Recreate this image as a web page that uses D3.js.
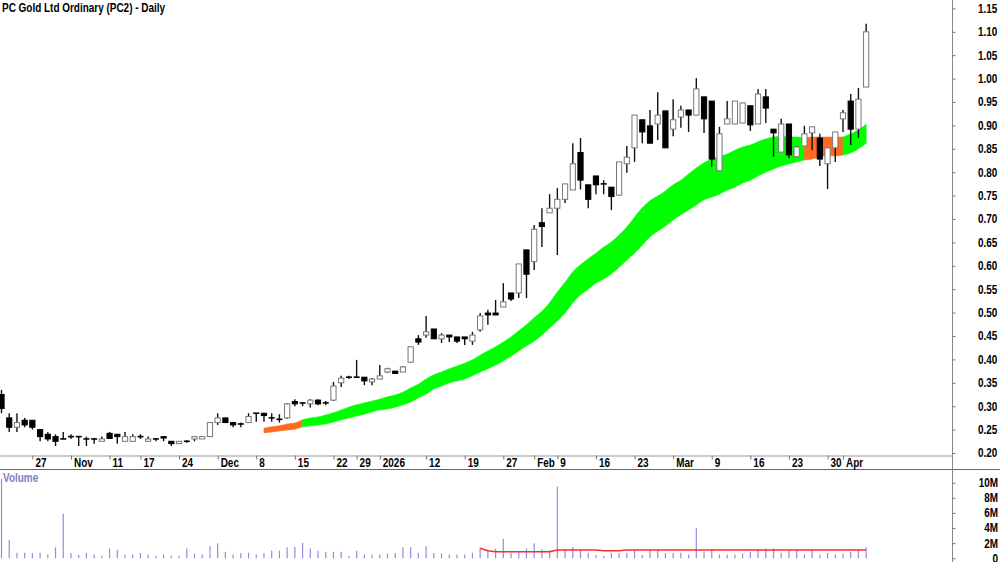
<!DOCTYPE html>
<html lang="en">
<head>
  <meta charset="utf-8">
  <title>PC Gold Ltd Ordinary (PC2) - Daily</title>
  <script src="https://cdn.jsdelivr.net/npm/d3@7"></script>
  <style>
    body { margin: 0; background: #fff; }
    svg text { font-family: "Liberation Sans", Arial, sans-serif; }
  </style>
</head>
<body>
  <svg class="chart" width="1000" height="562"></svg>
  <script>
    // daily bars, oldest first ($)
    var opens  = [.325,.275,.255,.270,.270,.250,.240,.235,.230,.235,.235,.230,.230,.225,.242,.240,.225,.225,.235,.225,
                  .230,.235,.225,.220,.225,.230,.230,.235,.265,.275,.265,.262,.265,.285,.285,.275,.272,.275,.310,.307,
                  .305,.313,.307,.313,.350,.362,.362,.362,.352,.358,.373,.375,.373,.394,.444,.452,.465,.444,.452,.448,
                  .448,.439,.463,.499,.499,.512,.542,.542,.634,.609,.692,.713,.723,.742,.762,.842,.773,.792,.775,.768,
                  .751,.818,.852,.912,.899,.903,.931,.892,.918,.933,.922,.961,.952,.803,.903,.903,.905,.942,.903,.961,
                  .892,.843,.903,.833,.856,.884,.873,.818,.852,.914,.952,.892,.982];
    var highs  = [.335,.285,.285,.275,.270,.250,.245,.240,.245,.240,.235,.235,.232,.235,.245,.240,.245,.240,.240,.235,
                  .232,.235,.225,.225,.227,.235,.235,.265,.285,.275,.265,.265,.285,.285,.285,.285,.283,.307,.315,.307,
                  .315,.315,.311,.352,.365,.365,.399,.362,.360,.388,.382,.375,.386,.427,.452,.493,.465,.456,.452,.448,
                  .448,.459,.499,.506,.527,.563,.542,.604,.634,.687,.723,.753,.766,.775,.862,.873,.773,.792,.783,.768,
                  .822,.856,.922,.912,.933,.971,.931,.956,.942,.933,1.001,.961,.952,.897,.952,.952,.948,.942,.978,.978,
                  .892,.914,.903,.856,.899,.897,.882,.852,.886,.933,.967,.980,1.117];
    var lows   = [.285,.245,.245,.255,.250,.225,.225,.215,.230,.230,.215,.215,.220,.225,.230,.220,.225,.225,.230,.225,
                  .225,.225,.215,.220,.222,.225,.230,.235,.260,.265,.255,.255,.265,.267,.267,.267,.265,.273,.300,.300,
                  .297,.302,.302,.311,.341,.358,.362,.345,.345,.358,.371,.370,.373,.394,.431,.446,.444,.435,.437,.435,
                  .431,.431,.459,.474,.495,.512,.525,.531,.531,.591,.640,.713,.623,.734,.762,.763,.723,.753,.753,.719,
                  .751,.799,.822,.862,.862,.869,.852,.877,.895,.886,.922,.884,.811,.803,.903,.903,.905,.888,.903,.905,
                  .833,.843,.830,.833,.856,.847,.813,.764,.822,.886,.858,.873,.982];
    var closes = [.295,.255,.265,.260,.255,.235,.230,.225,.230,.235,.235,.230,.230,.230,.231,.235,.235,.235,.235,.230,
                  .230,.232,.220,.225,.225,.235,.235,.265,.275,.265,.260,.262,.278,.285,.280,.275,.272,.305,.305,.307,
                  .313,.305,.307,.343,.360,.362,.362,.354,.358,.365,.380,.370,.384,.427,.437,.459,.444,.452,.448,.439,
                  .444,.452,.493,.495,.495,.523,.529,.604,.582,.678,.684,.723,.742,.775,.818,.783,.742,.773,.775,.748,
                  .822,.832,.922,.886,.862,.922,.852,.912,.933,.922,.978,.914,.828,.882,.914,.952,.948,.901,.967,.937,
                  .884,.903,.837,.854,.882,.897,.828,.852,.886,.927,.892,.956,1.100];

    // volume, millions of shares
    var volumes = [10.5,2.4,.75,.75,.7,.75,.5,1.45,5.9,.7,.45,.75,.5,.35,1.3,1.1,.5,.5,.7,.5,
                   .35,.5,.35,.35,1.3,.65,.5,1.6,2.0,.85,.5,.7,.75,.5,.7,1.0,1.0,1.45,1.5,2.05,
                   1.3,1.0,.85,.85,.85,.3,1.0,.5,.5,.5,.65,.7,1.45,1.45,.75,1.6,.7,.65,.5,.5,
                   .5,.75,1.4,1.1,1.3,2.6,.75,.85,1.3,2.0,1.2,1.1,9.5,1.2,1.45,1.1,.75,.45,.3,.75,
                   .7,.7,1.1,.45,1.1,1.1,.7,.7,.75,.5,4.0,.85,1.2,.5,.5,.5,.65,.85,1.2,1.3,
                   1.3,.75,1.0,1.1,.5,1.2,.5,.7,.5,.65,.85,1.2,1.45];

    // volume average line, from bar 63
    var volAvgStart = 63;
    var volAvg = [1.32,1.0,.88,.88,.88,.88,.88,.88,.88,.88,1.1,1.1,1.1,1.1,1.1,1.1,1.0,1.0,1.0,1.1,
                  1.1,1.1,1.1,1.1,1.1,1.1,1.1,1.1,1.1,1.1,1.1,1.1,1.1,1.1,1.1,1.1,1.1,1.1,1.1,1.1,
                  1.1,1.1,1.1,1.1,1.1,1.1,1.1,1.1,1.1,1.1,1.1];

    // trend ribbon, from bar 35 (G = rising, O = weak)
    var bandStart = 35;
    var bandUpper = [.253,.256,.258,.262,.264,.271,.275,.277,.281,.286,.292,.298,.303,.307,.311,.315,.320,.324,.330,.339,
                     .347,.358,.367,.373,.380,.386,.392,.399,.409,.418,.427,.437,.448,.461,.474,.489,.503,.521,.544,.565,
                     .587,.602,.615,.627,.640,.651,.666,.683,.704,.724,.739,.749,.760,.773,.783,.796,.809,.820,.828,.833,
                     .839,.847,.854,.858,.865,.871,.875,.877,.875,.875,.873,.875,.875,.875,.875,.875,.882,.890,.903];
    var bandLower = [.243,.245,.247,.249,.251,.256,.258,.260,.262,.266,.271,.275,.279,.283,.288,.292,.294,.298,.303,.309,
                     .318,.326,.337,.343,.350,.354,.358,.365,.373,.380,.388,.397,.407,.418,.429,.439,.452,.467,.482,.499,
                     .521,.538,.550,.563,.572,.583,.597,.612,.627,.644,.662,.674,.685,.698,.709,.719,.730,.741,.747,.753,
                     .762,.768,.777,.783,.792,.800,.807,.813,.818,.822,.826,.828,.833,.835,.835,.837,.841,.850,.862];
    var bandState = "OOOOOO" + "GGGGGGGGGGGGGGGGGGGGGGGGGGGGGGGGGGGGGGGGGGGGGGGGGGGGGGGGGGGGGGGGG" + "OOOOO" + "GGG";

    var priceTicks = [.20,.25,.30,.35,.40,.45,.50,.55,.60,.65,.70,.75,.80,.85,.90,.95,1.00,1.05,1.10,1.15];
    var volTicks = [0, 2, 4, 6, 8, 10];
    var dateTickBars = [5,10,15,19,24,29,34,39,44,47,50,56,61,66,70,73,78,83,88,93,98,103,108,110];
    var dateTickLabels = ["27","Nov","11","17","24","Dec","8","15","22","29","2026","12","19",
                          "27","Feb","9","16","23","Mar","9","16","23","30","Apr"];

    var bars = opens.map(function(o, i) {
      return { bar: i + 1, open: o, high: highs[i], low: lows[i], close: closes[i], volume: volumes[i] };
    });

    var x = d3.scaleLinear().domain([0.806, 124.12]).range([0, 952]);
    var y = d3.scaleLinear().domain([0.20, 1.15]).range([453, 8.4]);
    var yv = d3.scaleLinear().domain([0, 10]).range([558.3, 482.7]);

    // no narrow bold font installed: squeeze the normal one horizontally
    var squeeze = 0.83;
    function narrow(sel, xPos) {
      sel.attr("transform", "scale(" + squeeze + ",1)")
         .attr("x", xPos / squeeze)
         .attr("font-size", 12)
         .attr("font-weight", "bold");
    }

    var svg = d3.select("svg.chart");

    // ribbon, split into colour runs
    var bandPts = bandUpper.map(function(u, i) {
      return { bar: bandStart + i, hi: u, lo: bandLower[i], st: bandState[i] };
    });
    var runs = [];
    bandPts.forEach(function(p, i) {
      if (i === 0 || p.st !== runs[runs.length - 1].st) {
        runs.push({ st: p.st, pts: i > 0 ? [bandPts[i - 1]] : [] });
      }
      runs[runs.length - 1].pts.push(p);
    });
    var area = d3.area()
                 .curve(d3.curveMonotoneX)
                 .x(function(d) { return x(d.bar); })
                 .y0(function(d) { return y(d.lo); })
                 .y1(function(d) { return y(d.hi); });
    svg.append("g").selectAll("path")
       .data(runs)
       .enter().append("path")
       .attr("d", function(r) { return area(r.pts); })
       .attr("fill", function(r) { return r.st === "G" ? "#00ff00" : "#ff6a22"; })
       .attr("stroke", function(r) { return r.st === "G" ? "#00ff00" : "#ff6a22"; })
       .attr("stroke-width", 0.6);

    // candles
    var candle = svg.append("g").selectAll("g")
                    .data(bars)
                    .enter().append("g");
    candle.append("line")
          .attr("x1", function(d) { return x(d.bar); })
          .attr("x2", function(d) { return x(d.bar); })
          .attr("y1", function(d) { return y(d.high); })
          .attr("y2", function(d) { return y(d.low); })
          .attr("stroke", "#111")
          .attr("stroke-width", 1.4);
    candle.filter(function(d) { return Math.abs(d.close - d.open) >= 0.002; })
          .append("rect")
          .attr("x", function(d) { return x(d.bar) - 2.6; })
          .attr("width", 5.2)
          .attr("y", function(d) { return y(Math.max(d.open, d.close)); })
          .attr("height", function(d) { return Math.abs(y(d.open) - y(d.close)); })
          .attr("fill", function(d) { return d.close > d.open ? "#fff" : "#000"; })
          .attr("stroke", function(d) { return d.close > d.open ? "#777" : "#000"; })
          .attr("stroke-width", 1);
    candle.filter(function(d) { return Math.abs(d.close - d.open) < 0.002; })
          .append("line")
          .attr("x1", function(d) { return x(d.bar) - 3; })
          .attr("x2", function(d) { return x(d.bar) + 3; })
          .attr("y1", function(d) { return y(d.close); })
          .attr("y2", function(d) { return y(d.close); })
          .attr("stroke", "#000")
          .attr("stroke-width", 1.6);

    // volume bars + average
    svg.append("g").selectAll("line")
       .data(bars)
       .enter().append("line")
       .attr("x1", function(d) { return x(d.bar); })
       .attr("x2", function(d) { return x(d.bar); })
       .attr("y1", yv(0))
       .attr("y2", function(d) { return yv(d.volume); })
       .attr("stroke", "#8f8fdc")
       .attr("stroke-width", 1.2);

    svg.append("path")
       .datum(volAvg.map(function(v, i) { return { bar: volAvgStart + i, v: v }; }))
       .attr("d", d3.line().x(function(d) { return x(d.bar); }).y(function(d) { return yv(d.v); }))
       .attr("fill", "none")
       .attr("stroke", "#ff2a2a")
       .attr("stroke-width", 1.5);

    // frame lines
    svg.append("line").attr("x1", 0).attr("x2", 1000).attr("y1", 469.5).attr("y2", 469.5)
       .attr("stroke", "#666").attr("stroke-width", 1.2);
    svg.append("line").attr("x1", 952.5).attr("x2", 952.5).attr("y1", 0).attr("y2", 562)
       .attr("stroke", "#888").attr("stroke-width", 1);

    // date axis
    var xAxis = svg.append("g")
                   .attr("transform", "translate(0,455.5)")
                   .call(d3.axisBottom(x)
                           .tickValues(dateTickBars)
                           .tickFormat(function(d, i) { return dateTickLabels[i]; })
                           .tickSize(4)
                           .tickSizeOuter(0));
    xAxis.select(".domain").attr("stroke", "#999");
    xAxis.selectAll(".tick line").attr("stroke", "#777");
    xAxis.selectAll(".tick text")
         .attr("text-anchor", "start")
         .attr("y", 11.5)
         .attr("dy", null)
         .attr("fill", "#000")
         .call(narrow, 2.5);

    // price axis
    var yAxis = svg.append("g")
                   .attr("transform", "translate(952.5,0)")
                   .call(d3.axisRight(y)
                           .tickValues(priceTicks)
                           .tickFormat(d3.format(".2f"))
                           .tickSize(3));
    yAxis.select(".domain").remove();
    yAxis.selectAll(".tick line").attr("stroke", "#777");
    yAxis.selectAll(".tick text")
         .attr("fill", "#000")
         .call(narrow, 25.5);

    // volume axis
    var vAxis = svg.append("g")
                   .attr("transform", "translate(952.5,0)")
                   .call(d3.axisRight(yv)
                           .tickValues(volTicks)
                           .tickFormat(function(d) { return d ? d + "M" : "0"; })
                           .tickSize(3));
    vAxis.select(".domain").remove();
    vAxis.selectAll(".tick line").attr("stroke", "#777");
    vAxis.selectAll(".tick text")
         .attr("text-anchor", "end")
         .attr("fill", "#000")
         .call(narrow, 45.5);

    // titles
    svg.append("text").attr("y", 12).attr("fill", "#000")
       .call(narrow, 2)
       .text("PC Gold Ltd Ordinary (PC2) - Daily");
    svg.append("text").attr("y", 482).attr("fill", "#8080c4")
       .call(narrow, 3)
       .text("Volume");
  </script>
</body>
</html>
